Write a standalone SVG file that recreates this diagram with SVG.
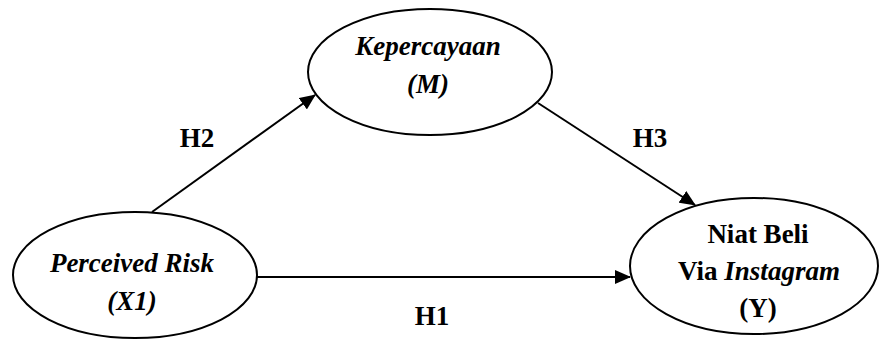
<svg xmlns="http://www.w3.org/2000/svg" width="879" height="341" viewBox="0 0 879 341">
<style>
.n{fill:#fff;stroke:#000;stroke-width:2}
.t{font-family:"Liberation Serif","Times New Roman",serif;font-size:27px;font-weight:bold;fill:#000;text-anchor:middle}
.i{font-style:italic}
.c{stroke:#000;stroke-width:2;fill:none;marker-end:url(#a)}
</style>
<defs>
<marker id="a" markerWidth="16" markerHeight="14" refX="15" refY="7" orient="auto" markerUnits="userSpaceOnUse">
<path d="M0,0 L16,7 L0,14 Z" fill="#000"/>
</marker>
</defs>
<rect width="879" height="341" fill="#fff"/>
<g id="connectors">
<line class="c" x1="152" y1="212" x2="315" y2="95"/>
<line class="c" x1="538" y1="103" x2="695" y2="205"/>
<line class="c" x1="256" y1="277" x2="630" y2="277"/>
<text class="t" x="197" y="147">H2</text>
<text class="t" x="650" y="147">H3</text>
<text class="t" x="432" y="325">H1</text>
</g>
<g id="perceived-risk">
<ellipse class="n" cx="135" cy="275" rx="122" ry="63"/>
<text class="t i" x="132" y="272">Perceived Risk</text>
<text class="t i" x="132" y="310">(X1)</text>
</g>
<g id="kepercayaan">
<ellipse class="n" cx="430" cy="72" rx="122" ry="63"/>
<text class="t i" x="428" y="55">Kepercayaan</text>
<text class="t i" x="428" y="93">(M)</text>
</g>
<g id="niat-beli">
<ellipse class="n" cx="754" cy="266" rx="124" ry="68"/>
<text class="t" x="758" y="243">Niat Beli</text>
<text class="t" x="759" y="280">Via <tspan class="i">Instagram</tspan></text>
<text class="t" x="758" y="317">(Y)</text>
</g>
</svg>
